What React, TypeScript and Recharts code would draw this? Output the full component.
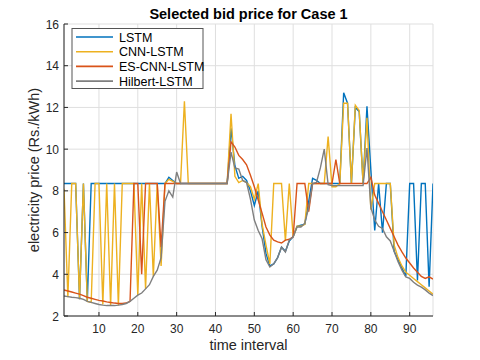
import React from 'react';
import { LineChart, Line, XAxis, YAxis, CartesianGrid } from 'recharts';

const timeIntervals: number[] = Array.from({ length: 96 }, (_, i) => i + 1);

const lstm = [
  8.35, 8.35, 8.35, 8.35, 2.8, 8.35, 2.7, 8.35, 8.35, 8.35,
  8.35, 8.35, 8.35, 8.35, 8.35, 8.35, 8.35, 8.35, 8.35, 8.35,
  8.35, 8.35, 8.35, 8.35, 8.35, 8.35, 8.35, 8.65, 8.5, 8.35,
  8.35, 8.35, 8.35, 8.35, 8.35, 8.35, 8.35, 8.35, 8.35, 8.35,
  8.35, 8.35, 8.35, 11.0, 9.2, 8.6, 8.7, 8.5, 8.0, 7.3,
  8.0, 6.3, 5.0, 4.4, 4.5, 4.8, 5.3, 5.1, 5.6, 5.8,
  6.3, 6.35, 6.4, 7.5, 8.6, 8.5, 8.35, 8.35, 8.35, 8.35,
  8.35, 8.35, 12.7, 12.2, 8.35, 12.0, 11.8, 8.35, 12.05, 9.0,
  6.1, 8.35, 6.0, 8.35, 8.35, 5.1, 4.7, 4.3, 3.9, 8.35,
  8.35, 3.7, 8.35, 8.35, 3.4, 8.35,
];

const cnnLstm = [
  8.1, 2.9, 8.35, 8.35, 2.8, 8.35, 2.7, 2.65, 8.35, 8.35,
  2.55, 8.35, 2.5, 8.35, 2.5, 8.35, 8.35, 8.35, 8.35, 3.0,
  8.35, 3.3, 8.35, 3.9, 8.35, 4.4, 8.35, 8.55, 8.45, 8.35,
  8.35, 12.3, 8.35, 8.35, 8.35, 8.35, 8.35, 8.35, 8.35, 8.35,
  8.35, 8.35, 8.35, 11.7, 8.7, 8.4, 8.5, 8.4, 8.2, 7.6,
  8.35, 6.4, 5.4, 4.5, 8.35, 8.35, 8.35, 5.6, 8.35, 5.8,
  6.3, 6.3, 6.4, 8.35, 8.35, 8.35, 8.35, 8.35, 10.6, 8.2,
  8.2, 8.35, 12.2, 12.2, 8.35, 12.1, 11.85, 8.35, 11.5, 7.1,
  8.35, 8.35, 8.35, 8.35, 8.35, 5.4, 4.8, 4.4, 4.1, 3.95,
  3.8, 3.65, 3.5, 3.35, 3.2, 3.05,
];

const esCnnLstm = [
  3.25, 3.2, 3.15, 3.1, 3.05, 2.98, 2.9, 2.85, 2.8, 2.75,
  2.72, 2.68, 2.65, 2.62, 2.6, 2.6, 2.62, 2.7, 8.35, 8.35,
  4.0, 8.35, 8.35, 8.35, 8.35, 5.3, 8.35, 8.35, 8.35, 8.35,
  8.35, 8.35, 8.35, 8.35, 8.35, 8.35, 8.35, 8.35, 8.35, 8.35,
  8.35, 8.35, 8.35, 10.35, 10.1, 9.7, 9.5, 9.25, 8.75, 8.2,
  7.56, 6.93, 6.27, 5.88, 5.64, 5.55, 5.5, 5.64, 5.68, 5.8,
  8.35, 8.35, 8.35, 7.0, 8.35, 8.35, 8.35, 8.35, 8.35, 8.35,
  9.5, 8.35, 8.35, 8.35, 8.35, 8.35, 8.35, 8.35, 8.35, 8.65,
  7.8, 7.4, 7.0, 6.6, 6.2, 5.8, 5.4, 5.07, 4.78, 4.54,
  4.3, 4.1, 3.9, 3.8, 3.88, 3.77,
];

const hilbertLstm = [
  2.96, 2.93, 2.9, 2.88, 2.85, 2.8, 2.7, 2.65, 2.6, 2.55,
  2.52, 2.5, 2.5, 2.5, 2.52, 2.55, 2.6, 2.7, 2.85, 3.0,
  3.1, 3.3, 3.5, 3.9, 4.2, 4.8, 7.5, 8.0, 7.7, 8.9,
  8.35, 8.35, 8.35, 8.35, 8.35, 8.35, 8.35, 8.35, 8.35, 8.35,
  8.35, 8.35, 8.35, 9.86, 9.1, 9.05, 8.5, 8.4, 7.6, 6.6,
  6.1, 5.7, 4.7, 4.35, 4.5, 4.8, 5.3, 5.07, 5.64, 5.8,
  6.27, 6.27, 6.45, 7.2, 8.35, 8.4, 9.1, 10.0, 8.3, 8.25,
  8.25, 8.25, 8.25, 8.25, 8.25, 8.25, 8.25, 8.25, 10.05, 7.2,
  6.6, 6.3, 6.2, 5.8, 5.6, 5.1, 4.6, 4.2, 3.87, 3.8,
  3.62, 3.48, 3.38, 3.25, 3.1, 2.98,
];

const xTicks = [10, 20, 30, 40, 50, 60, 70, 80, 90];
const yTicks = [2, 4, 6, 8, 10, 12, 14, 16];
const seriesKeys = ['lstm', 'cnn', 'es', 'hil'];
const seriesNames = ['LSTM', 'CNN-LSTM', 'ES-CNN-LSTM', 'Hilbert-LSTM'];
const seriesColors = ['#0072BD', '#EDB120', '#D95319', '#7F7F7F'];

const data = timeIntervals.map((t, i) => ({
  t,
  lstm: lstm[i],
  cnn: cnnLstm[i],
  es: esCnnLstm[i],
  hil: hilbertLstm[i],
}));

const FONT = '"Liberation Sans", Arial, Helvetica, sans-serif';
const AX = '#262626';

const BottomTick = (props: any) => {
  const { x, y, payload } = props;
  return (
    <g>
      <line x1={x} x2={x} y1={y} y2={y - 4} stroke={AX} strokeWidth={1} />
      <text x={x} y={y + 17} textAnchor="middle" fontSize={12} fill={AX} fontFamily={FONT}>
        {payload.value}
      </text>
    </g>
  );
};

const TopTick = (props: any) => {
  const { x, y } = props;
  return <line x1={x} x2={x} y1={y} y2={y + 4} stroke={AX} strokeWidth={1} />;
};

const LeftTick = (props: any) => {
  const { x, y, payload } = props;
  return (
    <g>
      <line x1={x} x2={x + 4} y1={y} y2={y} stroke={AX} strokeWidth={1} />
      <text x={x - 5} y={y + 4.5} textAnchor="end" fontSize={12} fill={AX} fontFamily={FONT}>
        {payload.value}
      </text>
    </g>
  );
};

const RightTick = (props: any) => {
  const { x, y } = props;
  return <line x1={x} x2={x - 4} y1={y} y2={y} stroke={AX} strokeWidth={1} />;
};

export default function App() {
  return (
    <div style={{ position: 'absolute', left: 0, top: 0, width: 480, height: 360, background: '#fff' }}>
      <LineChart
        width={480}
        height={360}
        data={data}
        margin={{ top: 24, right: 47, bottom: 14, left: 34 }}
      >
        <CartesianGrid stroke="#dfdfdf" strokeWidth={1} />
        <XAxis
          dataKey="t"
          type="number"
          domain={[1, 96]}
          ticks={xTicks}
          height={30}
          tickSize={0}
          tickMargin={0}
          tick={<BottomTick />}
          tickLine={false}
          axisLine={{ stroke: AX }}
          allowDataOverflow
        />
        <XAxis
          xAxisId="top"
          orientation="top"
          dataKey="t"
          type="number"
          domain={[1, 96]}
          ticks={xTicks}
          height={0}
          tickSize={0}
          tickMargin={0}
          tick={<TopTick />}
          tickLine={false}
          axisLine={{ stroke: AX }}
        />
        <YAxis
          type="number"
          domain={[2, 16]}
          ticks={yTicks}
          width={30}
          tickSize={0}
          tickMargin={0}
          tick={<LeftTick />}
          tickLine={false}
          axisLine={{ stroke: AX }}
          allowDataOverflow
        />
        <YAxis
          yAxisId="right"
          orientation="right"
          type="number"
          domain={[2, 16]}
          ticks={yTicks}
          width={0}
          tickSize={0}
          tickMargin={0}
          tick={<RightTick />}
          tickLine={false}
          axisLine={{ stroke: AX }}
        />
        {seriesKeys.map((k, i) => (
          <Line
            key={k}
            dataKey={k}
            name={seriesNames[i]}
            stroke={seriesColors[i]}
            strokeWidth={1.4}
            dot={false}
            activeDot={false}
            type="linear"
            isAnimationActive={false}
          />
        ))}
      </LineChart>
      <svg
        width={480}
        height={360}
        style={{ position: 'absolute', left: 0, top: 0, pointerEvents: 'none' }}
      >
        <text x={248.5} y={18.5} textAnchor="middle" fontSize={14.5} fontWeight="bold" fill="#000" fontFamily={FONT}>
          Selected bid price for Case 1
        </text>
        <text x={248.5} y={350} textAnchor="middle" fontSize={14.5} fill={AX} fontFamily={FONT}>
          time interval
        </text>
        <text
          x={0}
          y={0}
          transform="translate(39,170) rotate(-90)"
          textAnchor="middle"
          fontSize={14.5}
          fill={AX}
          fontFamily={FONT}
        >
          electricity price (Rs./kWh)
        </text>
        <rect x={72} y={28.5} width={131} height={60} fill="#fff" stroke="#555" strokeWidth={1} />
        {seriesNames.map((n, i) => {
          const cy = 37 + i * 14.7;
          return (
            <g key={n}>
              <line x1={76} x2={113} y1={cy} y2={cy} stroke={seriesColors[i]} strokeWidth={1.6} />
              <text x={119} y={cy + 4.5} fontSize={12.5} fill="#000" fontFamily={FONT}>
                {n}
              </text>
            </g>
          );
        })}
      </svg>
    </div>
  );
}
